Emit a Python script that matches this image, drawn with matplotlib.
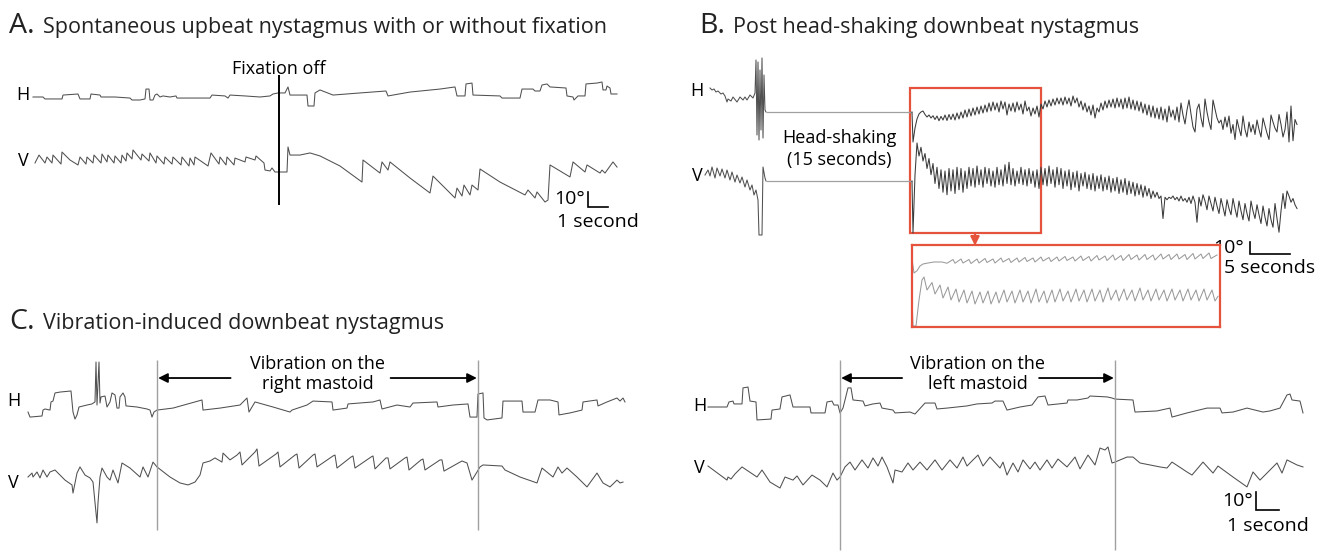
import numpy as np
import matplotlib
matplotlib.use("Agg")
import matplotlib.pyplot as plt
from matplotlib.patches import Rectangle

W, H = 1327, 553
plt.rcParams['font.family'] = ['Open Sans', 'DejaVu Sans']

TRACE = "#505050"
GREY = "#a0a0a0"
RED = "#e5533d"

# ---------------- data (sample index, degrees) ----------------
# A: spontaneous upbeat nystagmus, 20 samples/s
A_FS = 20
A_FIX_OFF = 246
A_H = [(0, 0), (10, 0), (12, -1.3), (29, -1.3), (30, 1.3), (45, 2), (47, -1.3), (57, -1.3),
       (58, 2), (67, 1.3), (68, 0), (82, 0), (97, -0.7), (99, -2), (107, -2), (112, -1.3),
       (113, 5.3), (116, 5.3), (117, -2), (120, -2), (122, 1.3), (124, 2), (127, 0), (130, 0.7),
       (137, 0), (143, 0.7), (144, -0.7), (162, -0.7), (177, -0.7), (179, 1.3), (192, 0.7),
       (195, -0.7), (197, 1.3), (212, 0.7), (227, 0), (237, 0.7), (240, 2), (245, 2.7),
       (252, 2.7), (255, 6.7), (257, 1.3), (274, 1.3), (275, -6), (281, -6), (282, 2.7),
       (287, 4.7), (300, 1.3), (327, 2.7), (353, 4), (355, 0.7), (377, 3.3), (407, 5.3),
       (422, 6.7), (424, 0.7), (432, 0.7), (433, 8.7), (439, 9.3), (440, 1.3), (467, 0.7),
       (469, -0.7), (487, -0.7), (489, 5.3), (500, 5.3), (502, 4), (507, 4), (509, 8),
       (514, 8.7), (517, 6.7), (533, 6), (534, 0.7), (540, 0), (541, -2), (545, 0.7),
       (552, 0.7), (553, 8.7), (564, 9.3), (569, 10), (570, 4.7), (573, 4.7), (574, 7.3),
       (577, 6), (578, 2), (584, 2)]
A_V = [(2, 0), (6, 5.3), (12, 0), (14, 4), (19, 0), (20, 5.3), (28, -0.7), (29, 7.3), (37, 2),
       (45, -1.3), (47, 4), (53, -0.7), (54, 4), (60, 0), (61, 5.3), (68, 0), (69, 6),
       (74, 0.7), (75, 5.3), (81, 0), (82, 4.7), (88, 0), (89, 5.3), (93, 1.3), (94, 6.7),
       (99, 2.7), (100, 8.7), (108, 2), (109, 6), (116, 1.3), (117, 6.7), (123, 0), (124, 4.7),
       (131, -0.7), (132, 4), (139, -0.7), (140, 4), (148, -1.3), (149, 4), (156, -2),
       (157, 3.3), (161, -1.3), (162, 4), (175, -2), (178, 6.7), (186, -0.7), (187, 4),
       (193, -1.3), (194, 4), (201, -1.3), (202, 3.3), (212, 0.7), (213, 4), (222, 2),
       (223, 4.7), (231, 0), (232, -4.7), (237, -5.3), (239, -3.3), (242, -6), (254, -6),
       (255, 10.7), (257, 5.3), (267, 5.3), (277, 6.7), (287, 4.7), (307, -2), (329, -12.7),
       (330, 2), (347, -6.7), (349, 0.7), (355, -4.7), (357, 0.7), (377, -10), (397, -20),
       (400, -8.7), (422, -23.3), (424, -16.7), (429, -22), (431, -14.7), (437, -21.3),
       (439, -14.7), (445, -18), (447, -4), (467, -12.7), (492, -21.3), (495, -18),
       (502, -23.3), (504, -19.3), (512, -26), (515, -24.7), (517, -1.3), (537, -9.3),
       (540, 0.7), (552, -6), (554, -1.3), (567, -6.7), (569, -4.7), (572, -6.7), (580, 0.7),
       (584, -2.7)]

# B: post head-shaking downbeat nystagmus, 8 samples/s
B_FS = 8
B_SHAKE = (61, 207)
B_PRE_H = [(5, 19.2), (7, 17.6), (9, 18.4), (11, 16), (13, 16.8), (16, 14.4), (18, 15.2),
           (20, 12.8), (22, 8), (23, 10.4), (26, 8.8), (28, 12), (32, 8), (35, 12), (38, 9.6),
           (40, 12), (42, 9.6), (45, 13.6), (48, 11.2), (50, 15.2), (51, 41.6), (52, -18.4),
           (53, 40), (54, -22.4), (55, 33.6), (56, -14.4), (57, 43.2), (58, -20.8),
           (59, 29.6), (60, 1.6), (61, 0)]
B_PRE_V = [(0, 4.8), (3, 8.8), (5, 4), (7, 11.2), (10, 2.4), (12, 10.4), (15, 4), (17, 9.6),
           (20, 2.4), (22, 8.8), (25, 0.8), (27, 7.2), (30, -0.8), (32, 4.8), (35, -1.6),
           (37, 3.2), (40, -4.8), (42, 0.8), (45, -7.2), (47, -3.2), (49, -11.2), (51, -7.2),
           (53, -15.2), (54, -43.2), (57, -43.2), (58, 11.2), (60, 2.4), (61, 0)]
# after head-shaking: one value every 2 samples from sample 208
B_POST_START, B_POST_STEP = 208, 2
B_POST_H = [-24, -12.8, -5.6, -1.6, 0, 0.8, -2, -4, -2.4, -4.8, -3, -6, -3.2, -7, -3.5, -6.4,
            -2.4, -6.8, -2, -6, -1.6, -6.4, -0.8, -5.6, 0, -4.8, 1.6, -4, 2.4, -3.2, 3.2, -2.4,
            4, -1.6, 4.8, -0.8, 5.6, 0, 7.2, 0.8, 8, 1.6, 7.2, 0, 8.8, 2.4, 8, -2.4, 6.4, 0.8,
            7.2, 0, 8, 1.6, 6.4, -1.6, 8.8, 0.8, 4, -3.2, 3.2, -1.6, 4.8, -4, 6.4, 2.4, 8.8, 4,
            9.6, 4.8, 10.4, 5.6, 11.2, 6.4, 11.2, 5.6, 12, 6.4, 11.2, 4.8, 12.8, 7.2, 11.2, 4,
            8.8, 1.6, 7.2, 0, 4.8, -2.4, 5.6, -4.8, 3.2, 0, 7.2, 1.6, 8.8, 3.2, 9.6, 4, 10.4,
            3.2, 11.2, 4, 10.4, 2.4, 11.2, 3.2, 12, 2.4, 9.6, 1.6, 8.8, 0.8, 8, -0.8, 6.4, -2.4,
            5.6, -4, 4.8, -4.8, 3.2, -5.6, 4, -6.4, 2.4, -8, 4.8, -4, 1.6, -6.4, 4, -8, 7.2,
            -2.4, -9.6, 1.6, 9.6, -1.6, -12, -16, 2.4, 6.4, -4.8, -12, 10.4, 0, -8, -14, 9.6,
            2.4, -4.8, -8.8, -6.4, -14, -4, -12, -3.2, -17, -10, -22, -6, -13, -19, -3.2, -14,
            -20, -8, -16, -10, -18, -6.4, -14, -20, -4.8, -11, -17, -22, -2.4, -8, -13, -16,
            -2, -10, -20, -14, 0, -24, 4.8, -23, -6, -10]
B_POST_V = [-41.6, 4.8, 30.4, 20, 27, 16, 22, 10, 18, 5, 14, -2, 11, -6, 9, -9, 8, -11, 10, -8,
            9, -10, 11, -7, 10, -9, 8, -6, 11, -4, 10, -5, 12, -3, 9, -5, 11, -2, 10, -4, 8, -5,
            11, -3, 9, -4, 13, -2, 15, -3, 10, -4, 8, -2, 11, -3, 9, -4, 10, -2, 8, -5, 9, -6,
            11, -3, 10, -4, 12, -2, 9, -5, 11, -3, 10, -6, 8, -4, 9, -7, 7, -5, 8, -8, 6, -4, 7,
            -6, 5, -7, 6, -8, 4, -6, 5, -8, 3, -7, 4, -9, 2, -8, 3, -10, 1, -9, 2, -11, 0, -10,
            -1, -12, -2, -11, -3, -13, -4, -12, -6, -14, -8, -13, -9, -14, -12, -30, -13, -15,
            -13, -14, -12, -15, -13, -16, -12, -16, -14, -17, -13, -18, -12, -17, -33, -13,
            -20, -11, -16, -23, -12, -18, -24, -13, -20, -26, -14, -21, -28, -15, -22, -27,
            -14, -22, -29, -16, -24, -31, -18, -26, -32, -16, -24, -30, -19, -27, -34, -20,
            -29, -36, -22, -31, -37, -18, -30, -41, -24, -10, -22, -8, -12, -17, -14, -19, -22]
# B inset: magnified view of the first seconds after head-shaking
INSET_FS = 18.7
INSET_H = [(0, 2.4), (2, -8.8), (5, -7), (8, -3.2), (11, -1.6), (16, -0.8), (22, 0), (30, 0),
           (35, -1), (41, 2), (43, -1), (49, 2.4), (51, -0.8), (57, 2), (59, -1.2), (65, 2.4),
           (67, -0.8), (73, 2.8), (75, -0.4), (81, 2.4), (83, -0.8), (89, 3.2), (91, 0),
           (97, 2.8), (99, -0.4), (105, 3.2), (107, 0), (113, 3.6), (115, 0.4), (121, 3.2),
           (123, 0), (129, 4), (131, 0.8), (137, 3.6), (139, 0.4), (145, 4), (147, 0.8),
           (153, 4.4), (155, 1.2), (161, 4), (163, 0.8), (169, 4.8), (171, 1.2), (177, 4.4),
           (179, 0.8), (185, 5.2), (187, 1.6), (193, 4.8), (195, 1.2), (201, 5.6), (203, 1.6),
           (209, 5.2), (211, 1.2), (217, 6), (219, 2), (225, 5.6), (227, 1.6), (233, 6),
           (235, 2), (241, 5.6), (243, 1.6), (249, 6.4), (251, 2.4), (257, 6), (259, 2),
           (265, 6.4), (267, 2.4), (273, 6), (275, 2), (281, 6.8), (283, 2.4), (289, 6.4),
           (291, 2.8), (297, 7.2), (299, 2.8), (305, 5.6)]
INSET_V = [(0, -1.6), (1, -24.8), (4, -24.8), (7, -4), (10, 12), (12, 14.4), (15, 4), (20, 10),
           (23, 0.8), (28, 8), (31, -2.4), (36, 6.4), (39, -4), (44, 4.8), (47, -5.6), (52, 4),
           (55, -6.4), (60, 3.2), (63, -7.2), (68, 2.4), (71, -6.4), (76, 3.2), (79, -7.2),
           (84, 2.4), (87, -6.4), (92, 4), (95, -5.6), (100, 3.2), (103, -6.4), (108, 4),
           (111, -5.6), (116, 3.2), (119, -6.4), (124, 4.8), (127, -5.6), (132, 3.2),
           (135, -6.4), (140, 4), (143, -5.6), (148, 4.8), (151, -4.8), (156, 3.2), (159, -5.6),
           (164, 4.8), (167, -4.8), (172, 4), (175, -5.6), (180, 4.8), (183, -4.8), (188, 4),
           (191, -5.6), (196, 5.6), (199, -4), (204, 4), (207, -4.8), (212, 4.8), (215, -4),
           (220, 4), (223, -4.8), (228, 5.6), (231, -4), (236, 4), (239, -4.8), (244, 4.8),
           (247, -4), (252, 4), (255, -4.8), (260, 4.8), (263, -4), (268, 4), (271, -4.8),
           (276, 4.8), (279, -4), (284, 4), (287, -4.8), (292, 4.8), (295, -4), (300, 4),
           (303, -4.8), (306, -1)]

# C: vibration-induced downbeat nystagmus, 23 samples/s
C_FS = 23
CR_VIB = (129, 450)   # right mastoid, on/off samples
CL_VIB = (132, 407)   # left mastoid
CR_H = [(0, -2.8), (2, -5.6), (14, -5), (15, -1.7), (17, -1.1), (22, -1.7), (23, 2.8), (25, 3.3),
        (27, 7.8), (32, 8.3), (43, 8.9), (45, -2.8), (47, -6.7), (49, -4.4), (51, 0), (59, 1.1),
        (64, 1.7), (67, 2.8), (68, 25), (69, 1.1), (71, 25), (72, 2.2), (73, 5.6), (77, 6.1),
        (79, 0), (82, 2.8), (84, 7.8), (87, 6.7), (89, -0.6), (91, -0.6), (92, 5.6), (95, 7.8),
        (97, 5.6), (98, 0.6), (109, 0), (119, -1.1), (122, -1.7), (124, -5.6), (126, -2.8),
        (129, -1.7), (145, -0.6), (174, 3.9), (175, -1.7), (192, -0.6), (212, 1.1), (219, 5),
        (221, -2.8), (227, 2.8), (245, 0), (262, -2.8), (264, -1.7), (279, 1.1), (285, 3.3),
        (304, 2.8), (305, -1.7), (319, -0.6), (320, 1.7), (345, 2.8), (352, 3.9), (354, -1.1),
        (369, 1.1), (382, 0), (385, 2.2), (409, 2.8), (410, 0), (425, 1.1), (440, 1.7),
        (442, -5.6), (449, -5.6), (450, 7.2), (455, 7.8), (456, -6.1), (459, -7.2),
        (474, -6.1), (475, 3.3), (494, 3.3), (495, -2.8), (507, -2.8), (510, 3.9), (522, 3.9),
        (530, 2.8), (531, -4.4), (542, -3.3), (554, -1.7), (555, 2.8), (569, 3.9), (570, 0.6),
        (579, 2.8), (589, 5), (592, 3.3), (595, 5), (597, 2.8)]
CR_V = [(0, -3.9), (4, -1.7), (5, -3.9), (9, -1.1), (12, -4.4), (15, 0), (19, -3.9), (22, -1.1),
        (27, 0), (37, -5.6), (44, -8.3), (45, -12.8), (49, -1.7), (52, 1.7), (57, -2.8),
        (62, -4.4), (65, -6.7), (69, -29.4), (70, -18.3), (72, -3.9), (74, 1.1), (79, -3.9),
        (82, -5.6), (85, 0), (90, -7.2), (94, 3.9), (102, 1.1), (112, -3.9), (115, 1.7),
        (120, -3.9), (125, 4.4), (129, 1.7), (142, -3.9), (152, -7.2), (160, -8.3),
        (167, -6.7), (172, -2.8), (175, 3.9), (182, 5), (187, 6.7), (194, 4.4), (195, 9.4),
        (202, 5.6), (209, 8.3), (212, 10), (214, 2.8), (227, 10), (229, 11.7), (231, 2.2),
        (248, 8.9), (250, 10), (252, 1.7), (267, 8.3), (269, 8.9), (271, 1.1), (285, 8.3),
        (287, 8.9), (289, 1.7), (305, 7.8), (307, 8.3), (309, 1.1), (323, 7.2), (325, 7.8),
        (327, 1.1), (343, 7.2), (345, 7.8), (347, 0.6), (358, 6.7), (360, 6.7), (362, 0.6),
        (377, 6.7), (379, 7.2), (381, 0), (393, 5.6), (395, 6.1), (397, 0), (412, 5.6),
        (414, 5.6), (416, -0.6), (432, 4.4), (434, 5), (439, 3.9), (444, -5.6), (449, -1.1),
        (452, 1.7), (455, 2.8), (474, 2.2), (477, 0), (492, -3.9), (509, -7.2), (514, 1.1),
        (525, -3.9), (530, 1.7), (534, -1.7), (539, 1.1), (549, -3.9), (559, -9.4),
        (569, -1.7), (575, -7.2), (582, -9.4), (589, -5.6), (592, -7.2), (595, -6.7)]
CL_H = [(0, 0), (19, 0), (21, 2.8), (25, 3.3), (26, 1.7), (34, 1.7), (35, 10.6), (40, 11.1),
        (42, 3.3), (48, 2.8), (49, -7.2), (63, -6.7), (64, -1.7), (72, -1.1), (74, 5.6),
        (82, 6.7), (85, 0), (102, 0), (103, -3.3), (117, -3.3), (119, 2.8), (124, 3.3),
        (126, 1.1), (130, 1.1), (132, -3.3), (135, -0.6), (140, 10.6), (143, 10.6), (145, 3.9),
        (155, 3.3), (157, 0.6), (165, 1.7), (172, 2.2), (174, -0.6), (185, -1.7), (187, -3.3),
        (202, -2.8), (207, -3.9), (217, 2.2), (227, 2.2), (229, -1.1), (239, -0.6), (249, 0),
        (259, 0.6), (269, 1.7), (284, 2.2), (287, 3.3), (295, 3.3), (299, -1.7), (312, 0),
        (324, 1.1), (330, 5.6), (337, 6.1), (340, 1.1), (359, 2.2), (360, 3.9), (369, 3.9),
        (380, 5), (382, 6.1), (399, 5.6), (404, 5), (407, 4.4), (425, 3.9), (427, -2.8),
        (449, -2.2), (462, -0.6), (464, -5.6), (479, -3.3), (499, -0.6), (512, -0.6),
        (514, -3.3), (525, -2.8), (539, -0.6), (555, -2.8), (562, -2.2), (572, -0.6),
        (579, 6.7), (582, 7.2), (584, 3.9), (592, 3.3), (595, -3.3)]
CL_V = [(0, 2.2), (19, -5.6), (20, -3.9), (23, -5), (27, -2.2), (34, 1.7), (49, -3.9), (54, 0),
        (62, -6.7), (72, -10), (77, -3.9), (85, -5.6), (89, -3.3), (95, -8.3), (104, -2.8),
        (112, -5.6), (119, -9.4), (125, -1.7), (129, -5.6), (132, -3.9), (137, 1.7),
        (142, 4.4), (147, 0), (154, 5.6), (160, 1.1), (165, 6.7), (170, 2.2), (174, 7.2),
        (179, 1.7), (185, -7.2), (187, 0), (194, -1.1), (200, 3.9), (205, 0), (212, 4.4),
        (219, 0), (227, 5.6), (234, 0), (242, 5.6), (249, 1.1), (255, 7.2), (259, 2.2),
        (265, 5.6), (270, 8.3), (275, 2.2), (282, 7.2), (292, 1.1), (295, 4.4), (299, -2.8),
        (305, 3.9), (310, -1.1), (315, 5.6), (322, 0.6), (327, 4.4), (332, 0), (339, 5.6),
        (344, 1.1), (350, 6.1), (359, 1.7), (367, 7.2), (372, 0.6), (380, 8.3), (387, 2.8),
        (392, 12.2), (397, 11.1), (400, 12.8), (404, 3.9), (407, 4.4), (419, 7.2), (425, 7.2),
        (432, 3.9), (452, 1.7), (459, 1.1), (464, 4.4), (479, -1.1), (484, -2.8), (495, 4.4),
        (505, -1.7), (510, 2.2), (525, -3.9), (539, -9.4), (545, -1.1), (552, -5.6),
        (569, 3.9), (574, -1.7), (579, 5.6), (589, 2.8), (595, 1.7)]

fig = plt.figure(figsize=(W / 100, H / 100), dpi=100)


def panel(box, origin, px_s, px_deg):
    # box/origin in reference pixels; axes units are seconds and degrees
    x0, y0, x1, y1 = box
    ox, oy = origin
    ax = fig.add_axes([x0 / W, 1 - y1 / H, (x1 - x0) / W, (y1 - y0) / H])
    ax.set_xlim((x0 - ox) / px_s, (x1 - ox) / px_s)
    ax.set_ylim((oy - y1) / px_deg, (oy - y0) / px_deg)
    ax.axis("off")
    return ax


def trace(ax, pts, fs, offset=0, **kw):
    a = np.asarray(pts, dtype=float)
    kw.setdefault("color", TRACE)
    kw.setdefault("lw", 0.75)
    ax.plot(a[:, 0] / fs, a[:, 1] + offset, **kw)


def ftext(px, py, s, **kw):
    fig.text(px / W, 1 - py / H, s, **kw)


def scalebar(ax, t, d, dt, label_t, size=14):
    ax.plot([t, t, t + dt], [d + 10, d, d], color="black", lw=1.2, solid_joinstyle="miter")
    ax.text(t - 0.15 * dt, d + 5, "10°", ha="right", va="center", fontsize=size)
    ax.text(t + dt / 2, d - 4, label_t, ha="center", va="top", fontsize=size)


# ---------------- titles ----------------
for px, py, letter, title in [(9, 33, "A.", "Spontaneous upbeat nystagmus with or without fixation"),
                              (699, 33, "B.", "Post head-shaking downbeat nystagmus"),
                              (9, 329, "C.", "Vibration-induced downbeat nystagmus")]:
    ftext(px, py, letter, fontsize=20.5, va="baseline", color="#222222")
    ftext(px + 34, py, title, fontsize=15.5, va="baseline", color="#222222")

# ---------------- panel A ----------------
axA = panel((0, 40, 640, 240), (33, 97), 20, 1.5)
A_VOFF = -44
trace(axA, A_H, A_FS)
trace(axA, A_V, A_FS, A_VOFF)
axA.vlines(A_FIX_OFF / A_FS, -72, 14.7, color="black", lw=1.4)
axA.text(A_FIX_OFF / A_FS, 15.3, "Fixation off", ha="center", va="baseline", fontsize=13)
ftext(23, 95, "H", ha="center", va="center", fontsize=13)
ftext(23, 161, "V", ha="center", va="center", fontsize=13)
scalebar(axA, 27.75, -73.3, 1, "1 second")

# ---------------- panel B ----------------
axB = panel((640, 40, 1327, 340), (705, 112), 8, 1.25)
B_VOFF = -55.2
trace(axB, B_PRE_H, B_FS)
trace(axB, B_PRE_V, B_FS, B_VOFF)
for off in (0, B_VOFF):
    axB.hlines(off, B_SHAKE[0] / B_FS, B_SHAKE[1] / B_FS, color=GREY, lw=0.9)
t0 = B_SHAKE[1] / B_FS
for vals, off in ((B_POST_H, 0), (B_POST_V, B_VOFF)):
    post_t = (B_POST_START + B_POST_STEP * np.arange(len(vals))) / B_FS
    axB.plot(np.r_[t0, post_t], np.r_[0, vals] + off, color="#3a3a3a", lw=0.75)
axB.text((B_SHAKE[0] + B_SHAKE[1]) / 2 / B_FS, -29.6, "Head-shaking\n(15 seconds)",
         ha="center", va="center", fontsize=13, linespacing=1.25)
axB.add_patch(Rectangle((25.625, -96.8), 16.375, 116, fill=False, ec=RED, lw=1.6))
axB.annotate("", xy=(33.75, -107), xytext=(33.75, -96.8),
             arrowprops=dict(arrowstyle="-|>", color=RED, lw=1.6, mutation_scale=13,
                             shrinkA=0, shrinkB=0))
ftext(697, 91, "H", ha="center", va="center", fontsize=13)
ftext(697, 176, "V", ha="center", va="center", fontsize=13)
scalebar(axB, 68.125, -113.6, 5, "5 seconds")

# inset
axI = panel((912, 245, 1220, 327), (912, 262), INSET_FS, 1.25)
axI.axis("on")
axI.set_xticks([])
axI.set_yticks([])
axI.patch.set_alpha(0)
for sp in axI.spines.values():
    sp.set_color(RED)
    sp.set_linewidth(1.6)
trace(axI, INSET_H, INSET_FS, color="#9a9a9a", lw=0.75)
trace(axI, INSET_V, INSET_FS, -26.4, color="#9a9a9a", lw=0.75)

# ---------------- panel C ----------------
C_VOFF = -35
for box, origin, hdat, vdat, vib, side, vtop, vbot, lab in [
        ((0, 330, 650, 553), (28, 407), CR_H, CR_V, CR_VIB, "right", 26.1, -68.3, (14, 401, 13, 483)),
        ((650, 330, 1327, 553), (708, 407), CL_H, CL_V, CL_VIB, "left", 26.1, -79.4, (700, 406, 699, 468))]:
    ax = panel(box, origin, 23, 1.8)
    trace(ax, hdat, C_FS)
    trace(ax, vdat, C_FS, C_VOFF)
    t_on, t_off = vib[0] / C_FS, vib[1] / C_FS
    ax.vlines([t_on, t_off], vbot, vtop, color=GREY, lw=1.0)
    ax.text((t_on + t_off) / 2, 18.3, f"Vibration on the\n{side} mastoid", ha="center",
            va="center", fontsize=13, linespacing=1.15)
    arrow = dict(arrowstyle="-|>", color="black", lw=1.3, mutation_scale=14, shrinkA=0, shrinkB=0)
    gap = 3.2 if side == "right" else 2.7
    ax.annotate("", xy=(t_on + 0.05, 16.1), xytext=(t_on + gap, 16.1), arrowprops=arrow)
    ax.annotate("", xy=(t_off - 0.05, 16.1), xytext=(t_off - gap - 0.6, 16.1), arrowprops=arrow)
    ftext(lab[0], lab[1], "H", ha="center", va="center", fontsize=13)
    ftext(lab[2], lab[3], "V", ha="center", va="center", fontsize=13)
    if side == "left":
        scalebar(ax, 23.83, -57.2, 1, "1 second")

fig.savefig("out.png", dpi=100, facecolor="white")
